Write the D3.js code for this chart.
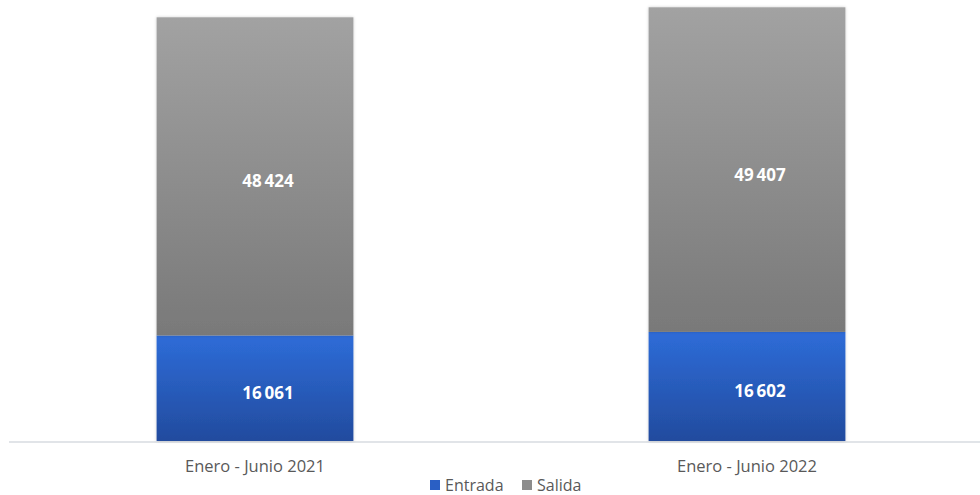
<!DOCTYPE html>
<html>
<head>
<meta charset="utf-8">
<script src="https://cdn.jsdelivr.net/npm/d3@7"></script>
<style>
  body { margin: 0; background: #fff; }
  text { font-family: "Open Sans", "Noto Sans", sans-serif; }
</style>
</head>
<body>
<div></div>
<script>
// data
var categories = ["Enero - Junio 2021", "Enero - Junio 2022"];
var entrada = [16061, 16602];
var salida = [48424, 49407];
var seriesNames = ["Entrada", "Salida"];

var width = 980, height = 495;
var baseY = 441;

var svg = d3.select("body").select("div").append("svg")
    .attr("width", width)
    .attr("height", height);

var defs = svg.append("defs");
var gBlue = defs.append("linearGradient").attr("id", "gBlue")
    .attr("x1", 0).attr("y1", 0).attr("x2", 0).attr("y2", 1);
gBlue.append("stop").attr("offset", "0%").attr("stop-color", "#2e6cd8");
gBlue.append("stop").attr("offset", "100%").attr("stop-color", "#224b9e");
var gGray = defs.append("linearGradient").attr("id", "gGray")
    .attr("x1", 0).attr("y1", 0).attr("x2", 0).attr("y2", 1);
gGray.append("stop").attr("offset", "0%").attr("stop-color", "#a2a2a2");
gGray.append("stop").attr("offset", "100%").attr("stop-color", "#797979");

var shadow = defs.append("filter").attr("id", "shadow")
    .attr("x", "-10%").attr("y", "-10%").attr("width", "120%").attr("height", "120%");
shadow.append("feDropShadow").attr("dx", 0).attr("dy", 0)
    .attr("stdDeviation", 1.5).attr("flood-color", "#000").attr("flood-opacity", 0.2);

var x = d3.scaleBand().domain(categories).range([9, 993]).paddingInner(0.6).paddingOuter(0.3);
var y = d3.scaleLinear().domain([0, 67120]).range([baseY, 0]);

var data = categories.map(function(c, i) {
  return {cat: c, Entrada: entrada[i], Salida: salida[i]};
});
var stacked = d3.stack().keys(seriesNames)(data);
var fills = {Entrada: "url(#gBlue)", Salida: "url(#gGray)"};

// axis line
svg.append("line")
    .attr("x1", 9).attr("x2", width)
    .attr("y1", baseY + 1).attr("y2", baseY + 1)
    .attr("stroke", "#e1e4e8").attr("stroke-width", 2);

var layers = svg.selectAll("g.layer").data(stacked).enter().append("g")
    .attr("class", "layer");

layers.selectAll("rect").data(function(d) { return d.map(function(p) { p.key = d.key; return p; }); })
  .enter().append("rect")
    .attr("x", function(d) { return x(d.data.cat); })
    .attr("y", function(d) { return y(d[1]); })
    .attr("width", x.bandwidth())
    .attr("height", function(d) { return y(d[0]) - y(d[1]); })
    .attr("fill", function(d) { return fills[d.key]; })
    .attr("filter", "url(#shadow)");

// value labels (thin space as thousands separator)
var fmt = function(v) { return d3.format(",")(v).replace(",", "\u2009"); };
layers.selectAll("text.val").data(function(d) { return d; })
  .enter().append("text")
    .attr("class", "val")
    .attr("x", function(d) { return x(d.data.cat) + x.bandwidth() / 2 + 13; })
    .attr("y", function(d) { return (y(d[0]) + y(d[1])) / 2 + 5; })
    .attr("dy", "0.35em")
    .attr("text-anchor", "middle")
    .attr("fill", "#fff")
    .attr("font-weight", "bold")
    .attr("font-size", "17px")
    .text(function(d) { return fmt(d[1] - d[0]); });

// category axis
var xAxis = svg.append("g")
    .attr("transform", "translate(0," + baseY + ")")
    .call(d3.axisBottom(x).tickSize(0).tickPadding(19));
xAxis.select(".domain").remove();
xAxis.selectAll("text")
    .attr("fill", "#595959")
    .attr("font-size", "16.5px")
    .attr("font-family", "'Open Sans', 'Noto Sans', sans-serif");

// legend
var legend = svg.append("g").attr("transform", "translate(430,485)");
var legendItems = [
  {name: "Entrada", color: "#2a5fc4", x: 0},
  {name: "Salida", color: "#8c8c8c", x: 92}
];
legendItems.forEach(function(it) {
  legend.append("rect").attr("x", it.x).attr("y", -5).attr("width", 10).attr("height", 10)
      .attr("fill", it.color);
  legend.append("text").attr("x", it.x + 15).attr("y", 0).attr("dy", "0.35em")
      .attr("fill", "#595959").attr("font-size", "16px").text(it.name);
});
</script>
</body>
</html>
